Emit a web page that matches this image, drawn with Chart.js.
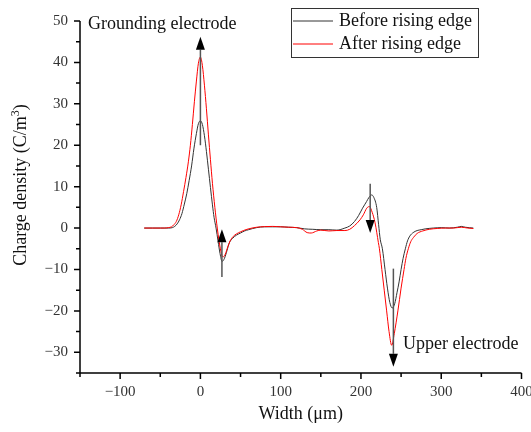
<!DOCTYPE html>
<html>
<head>
<meta charset="utf-8">
<script src="https://cdn.jsdelivr.net/npm/chart.js@4.4.1/dist/chart.umd.min.js"></script>
<style>
  html, body { margin: 0; padding: 0; background: #fff; overflow: hidden; }
  #wrap { width: 531px; height: 432px; overflow: hidden; }
  #inner { width: 560px; height: 432px; }
</style>
</head>
<body>
<div id="wrap"><div id="inner"><canvas id="chart" width="560" height="432"></canvas></div></div>
<script>
// Before rising edge (black)
const beforeX = [-70, -60, -50, -40, -35, -32, -29, -26, -23, -20, -17, -14, -11, -8, -5, -2.5, 0, 2.5, 5, 7.5,
  10, 12.5, 15, 17, 19.5, 22, 24.5, 27, 30, 33, 36, 40, 45, 50, 55, 60, 70, 80, 90, 100,
  110, 120, 130, 140, 150, 160, 170, 180, 186, 192, 197, 202, 207, 210, 213.4, 216, 219.6, 222, 224, 226.7,
  230, 233, 236, 239, 242, 245, 247.5, 250, 252.5, 255.3, 258, 261, 265, 270, 275, 280, 290, 300, 310, 320,
  325, 330, 340];
const beforeY = [0, 0, 0, 0, 0.1, 0.4, 1.0, 2.0, 3.5, 5.8, 8.3, 11.5, 15.0, 19.3, 22.8, 25.2, 25.9, 25.0, 22.3, 18.5,
  14.2, 9.8, 5.6, 2.6, 0, -3.2, -6.2, -8.05, -7.3, -5.5, -3.6, -2.5, -1.7, -1.2, -0.7, -0.4, 0.1, 0.3, 0.3, 0.3,
  0.2, 0.1, -0.2, -0.3, -0.4, -0.4, -0.5, 0, 0.5, 1.6, 3.0, 4.8, 6.4, 7.4, 8.0, 7.4, 5.0, 0.8, -2.7, -5,
  -10, -14.5, -18, -19.3, -18.3, -15.5, -13, -10, -7.3, -5, -3.1, -1.9, -1.1, -0.6, -0.4, -0.2, 0, 0.1, 0, 0.2,
  0.4, 0.2, 0];

// After rising edge (red)
const afterX = [-70, -60, -50, -45, -40, -36, -33, -30, -27, -24, -21, -18, -15, -12.5, -10, -7.5, -5, -2.5, 0, 2.5,
  5, 7.5, 10, 12.5, 15, 18, 21, 23, 25.5, 28, 31, 34, 37, 41, 45, 50, 58, 70, 80, 90,
  100, 110, 120, 127, 133, 138, 145, 150, 160, 170, 180, 186, 192, 198.9, 203, 207.2, 210.5, 214, 217.6, 221.7,
  223, 226, 229, 232, 235, 238.3, 241.5, 246, 250, 253.7, 256, 259, 262, 265.3, 270, 277, 285, 295, 305, 315,
  325, 333, 340];
const afterY = [0, 0, 0, 0, 0.1, 0.3, 0.8, 1.6, 3.2, 5.6, 8.8, 12.2, 16.0, 20, 25, 30.5, 35.5, 39.8, 41.3, 39.2,
  34.5, 28.8, 22.5, 16.5, 10.8, 5, 0, -2.8, -5.6, -7.0, -6.3, -4.6, -3.1, -2.0, -1.4, -0.9, -0.3, 0.2, 0.35, 0.4,
  0.3, 0.2, 0.1, -0.3, -1.1, -1.2, -0.7, -0.5, -0.7, -0.6, -0.6, -0.3, 0.6, 2.0, 3.2, 4.8, 5.2, 3.8, 1.25, -3.5,
  -5, -10, -15, -20, -25, -28.3, -25.5, -20, -14.5, -10, -7.3, -5, -3.3, -2.3, -1.3, -0.7, -0.3, -0.1, 0, 0,
  0.2, 0, -0.1];

const seriesNames = ["Before rising edge", "After rising edge"];
const seriesColors = ["#333333", "#ff0000"];

// axis tick labels
const xTickValues = [-100, 0, 100, 200, 300, 400];
const yTickValues = [-30, -20, -10, 0, 10, 20, 30, 40, 50];

// arrows: x position, tail value, tip value (data units)
const arrows = [
  { x: 0, from: 20, to: 46.2 },
  { x: 26.8, from: -11.8, to: -0.3 },
  { x: 211.5, from: 10.7, to: -1.2 },
  { x: 240.4, from: -9.8, to: -33.5 },
];
const notes = [
  { text: "Grounding electrode", x: -140, y: 49.1 },
  { text: "Upper electrode", x: 252.4, y: -28.1 },
];

const FONT = "'Liberation Serif', 'Times New Roman', serif";

function toPoints(xs, ys) {
  return xs.map((x, i) => ({ x, y: ys[i] }));
}

function minus(v) {
  return String(v).replace("-", "\u2212");
}

const decor = {
  id: "decor",
  afterDraw(chart) {
    const { ctx, chartArea: area, scales: { x, y } } = chart;
    ctx.save();

    // axes + ticks (major and minor)
    ctx.strokeStyle = "#000";
    ctx.lineWidth = 1.5;
    ctx.beginPath();
    ctx.moveTo(area.left, area.top);
    ctx.lineTo(area.left, area.bottom);
    ctx.lineTo(area.right, area.bottom);
    for (let v = -150; v <= 400; v += 50) {
      const px = x.getPixelForValue(v);
      const len = v % 100 === 0 ? 6 : 4;
      ctx.moveTo(px, area.bottom);
      ctx.lineTo(px, area.bottom + len);
    }
    for (let v = -35; v <= 50; v += 5) {
      const py = y.getPixelForValue(v);
      const len = v % 10 === 0 ? 6 : 4;
      ctx.moveTo(area.left - len, py);
      ctx.lineTo(area.left, py);
    }
    ctx.stroke();

    // arrows
    for (const a of arrows) {
      const px = x.getPixelForValue(a.x);
      const p0 = y.getPixelForValue(a.from);
      const tip = y.getPixelForValue(a.to);
      const dir = tip < p0 ? -1 : 1;
      const base = tip - dir * 13;
      ctx.strokeStyle = "#555";
      ctx.lineWidth = 1.5;
      ctx.beginPath();
      ctx.moveTo(px, p0);
      ctx.lineTo(px, base);
      ctx.stroke();
      ctx.fillStyle = "#000";
      ctx.beginPath();
      ctx.moveTo(px, tip);
      ctx.lineTo(px - 4.5, base);
      ctx.lineTo(px + 4.5, base);
      ctx.closePath();
      ctx.fill();
    }

    // text notes
    ctx.fillStyle = "#111";
    ctx.font = `18px ${FONT}`;
    ctx.textAlign = "left";
    ctx.textBaseline = "middle";
    for (const n of notes) {
      ctx.fillText(n.text, x.getPixelForValue(n.x), y.getPixelForValue(n.y));
    }

    // legend
    ctx.strokeStyle = "#333";
    ctx.lineWidth = 1;
    ctx.strokeRect(291.5, 8.5, 187, 49);
    const rows = [21, 44];
    seriesNames.forEach((name, i) => {
      ctx.strokeStyle = seriesColors[i];
      ctx.beginPath();
      ctx.moveTo(293, rows[i]);
      ctx.lineTo(333, rows[i]);
      ctx.stroke();
      ctx.fillStyle = "#111";
      ctx.fillText(name, 339, rows[i]);
    });

    // y title with superscript
    ctx.translate(20, 185);
    ctx.rotate(-Math.PI / 2);
    ctx.textBaseline = "alphabetic";
    ctx.font = `18px ${FONT}`;
    const main = "Charge density (C/m";
    const wMain = ctx.measureText(main).width;
    const wClose = ctx.measureText(")").width;
    ctx.font = `12px ${FONT}`;
    const wSup = ctx.measureText("3").width;
    let sx = -(wMain + wSup + wClose) / 2;
    ctx.font = `18px ${FONT}`;
    ctx.fillText(main, sx, 6);
    sx += wMain;
    ctx.font = `12px ${FONT}`;
    ctx.fillText("3", sx, -1);
    sx += wSup;
    ctx.font = `18px ${FONT}`;
    ctx.fillText(")", sx, 6);

    ctx.restore();
  },
};

new Chart(document.getElementById("chart"), {
  type: "line",
  data: {
    datasets: [
      {
        label: seriesNames[0],
        data: toPoints(beforeX, beforeY),
        borderColor: seriesColors[0],
        borderWidth: 1,
        pointRadius: 0,
        cubicInterpolationMode: "monotone",
        order: 1,
      },
      {
        label: seriesNames[1],
        data: toPoints(afterX, afterY),
        borderColor: seriesColors[1],
        borderWidth: 1,
        pointRadius: 0,
        cubicInterpolationMode: "monotone",
        order: 0,
      },
    ],
  },
  options: {
    responsive: false,
    animation: false,
    layout: { padding: { top: 14, right: 38.5, left: 0, bottom: 0 } },
    plugins: { legend: { display: false }, tooltip: { enabled: false } },
    scales: {
      x: {
        type: "linear",
        min: -150,
        max: 400,
        grid: { display: false, drawTicks: false },
        border: { display: false },
        afterBuildTicks: (s) => { s.ticks = xTickValues.map((value) => ({ value })); },
        ticks: {
          autoSkip: false,
          maxRotation: 0,
          padding: 10,
          color: "#333",
          font: { family: FONT, size: 15 },
          callback: (v) => minus(v),
        },
        title: {
          display: true,
          text: "Width (\u03bcm)",
          color: "#111",
          font: { family: FONT, size: 18 },
          padding: { top: 0, bottom: 7 },
        },
        afterFit: (s) => { s.height = 59; },
      },
      y: {
        min: -35,
        max: 50,
        grid: { display: false, drawTicks: false },
        border: { display: false },
        afterBuildTicks: (s) => { s.ticks = yTickValues.map((value) => ({ value })); },
        ticks: {
          autoSkip: false,
          padding: 12,
          color: "#333",
          font: { family: FONT, size: 15 },
          callback: (v) => minus(v),
        },
        afterFit: (s) => { s.width = 80; },
      },
    },
  },
  plugins: [decor],
});
</script>
</body>
</html>
